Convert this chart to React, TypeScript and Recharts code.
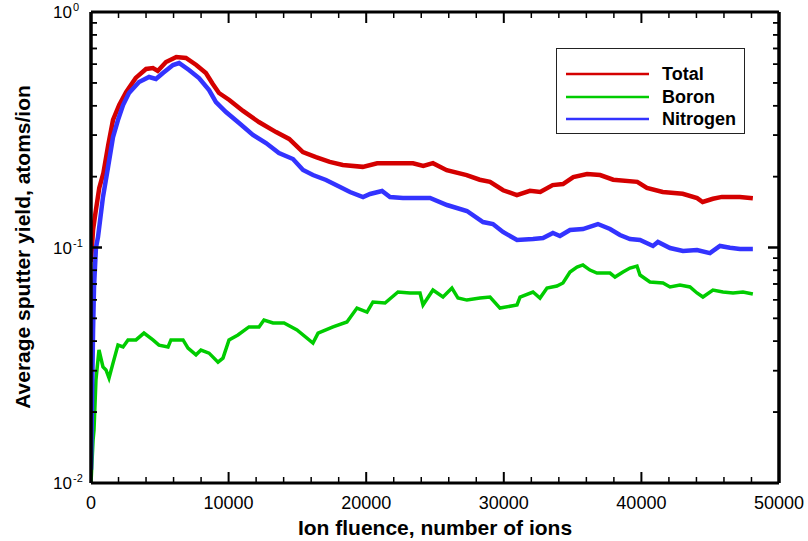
import React from 'react';
import { LineChart, Line, XAxis, YAxis, Label } from 'recharts';

// ---- Data ----
const totalFluence = [0, 150, 300, 600, 900, 1250, 1600, 2050, 2550, 3250, 4000, 4500, 4850, 5450, 6200, 6900, 7650, 8350, 8850, 9300, 10050, 11050, 12200, 13450, 14400, 15400, 16350, 17350, 18300, 19750, 20800, 21500, 22450, 23400, 24150, 24850, 25850, 27300, 28250, 29000, 29950, 30950, 31900, 32650, 33550, 34300, 35050, 36050, 37000, 37950, 39700, 40400, 41550, 43000, 44050, 44450, 45200, 45850, 47150, 48100];
const totalYield = [0.087, 0.119, 0.137, 0.179, 0.207, 0.272, 0.348, 0.403, 0.457, 0.525, 0.573, 0.578, 0.562, 0.613, 0.644, 0.638, 0.596, 0.551, 0.495, 0.453, 0.423, 0.380, 0.341, 0.309, 0.289, 0.254, 0.242, 0.231, 0.224, 0.220, 0.228, 0.228, 0.228, 0.228, 0.222, 0.228, 0.213, 0.203, 0.194, 0.190, 0.175, 0.167, 0.174, 0.172, 0.184, 0.186, 0.199, 0.205, 0.203, 0.194, 0.190, 0.179, 0.172, 0.169, 0.162, 0.156, 0.161, 0.164, 0.164, 0.162];

const boronFluence = [0, 150, 220, 360, 580, 870, 1090, 1310, 1600, 1960, 2330, 2690, 3270, 3850, 4500, 4940, 5600, 5810, 6690, 7050, 7630, 7990, 8580, 9230, 9590, 10030, 10680, 11480, 12210, 12570, 13230, 14030, 14970, 16130, 16500, 17590, 18600, 19330, 20060, 20490, 21370, 22310, 23180, 23910, 24130, 24850, 25580, 26230, 26670, 27320, 28270, 29000, 29720, 30960, 31180, 32120, 32630, 33140, 33860, 34300, 34810, 35320, 35750, 36260, 36770, 37720, 38080, 38660, 39170, 39680, 39900, 40620, 41570, 42080, 42800, 43530, 44040, 44470, 45200, 45930, 46660, 47380, 48100];
const boronYield = [0.0100, 0.0152, 0.0168, 0.0274, 0.0367, 0.0311, 0.0302, 0.0279, 0.0323, 0.0385, 0.0378, 0.0405, 0.0405, 0.0433, 0.0405, 0.0385, 0.0378, 0.0405, 0.0405, 0.0374, 0.0350, 0.0367, 0.0356, 0.0326, 0.0339, 0.0405, 0.0425, 0.0460, 0.0460, 0.0492, 0.0478, 0.0478, 0.0447, 0.0393, 0.0433, 0.0460, 0.0483, 0.0553, 0.0532, 0.0587, 0.0581, 0.0647, 0.0641, 0.0641, 0.0570, 0.0660, 0.0616, 0.0673, 0.0610, 0.0598, 0.0610, 0.0616, 0.0553, 0.0570, 0.0616, 0.0647, 0.0610, 0.0673, 0.0686, 0.0707, 0.0787, 0.0826, 0.0843, 0.0802, 0.0779, 0.0779, 0.0749, 0.0787, 0.0818, 0.0834, 0.0764, 0.0714, 0.0707, 0.0680, 0.0693, 0.0680, 0.0641, 0.0616, 0.0660, 0.0647, 0.0641, 0.0647, 0.0635];

const nitrogenFluence = [0, 150, 220, 360, 510, 870, 1240, 1600, 1960, 2330, 2760, 3490, 4220, 4720, 5230, 5960, 6400, 7120, 7850, 8580, 9080, 9810, 10760, 11770, 12720, 13660, 14680, 15410, 16130, 17080, 18100, 18820, 19770, 20280, 21150, 21730, 22670, 24640, 25870, 27320, 28490, 29210, 29940, 30960, 32120, 32850, 33570, 34080, 34810, 35750, 36840, 37720, 38440, 39170, 39900, 40840, 41200, 42080, 43020, 44040, 44980, 45710, 46440, 47160, 48100];
const nitrogenYield = [0.0114, 0.0447, 0.0680, 0.0998, 0.1108, 0.1638, 0.2197, 0.2945, 0.3478, 0.4027, 0.4529, 0.5045, 0.5296, 0.5193, 0.5508, 0.5955, 0.6074, 0.5673, 0.5245, 0.4664, 0.4148, 0.3761, 0.3378, 0.3004, 0.2778, 0.2519, 0.2375, 0.2133, 0.2032, 0.1935, 0.1806, 0.1720, 0.1638, 0.1687, 0.1737, 0.1638, 0.1622, 0.1622, 0.1515, 0.1429, 0.1283, 0.1258, 0.1164, 0.1076, 0.1087, 0.1097, 0.1152, 0.1119, 0.1187, 0.1198, 0.1258, 0.1198, 0.1130, 0.1087, 0.1076, 0.1015, 0.1055, 0.0995, 0.0966, 0.0976, 0.0947, 0.1015, 0.0998, 0.0985, 0.0985];

const fluenceTicks = [0, 2000, 4000, 6000, 8000, 10000, 12000, 14000, 16000, 18000, 20000, 22000, 24000, 26000, 28000, 30000, 32000, 34000, 36000, 38000, 40000, 42000, 44000, 46000, 48000, 50000];
const fluenceMajor = [0, 10000, 20000, 30000, 40000, 50000];
const yieldTicks = [0.01, 0.02, 0.03, 0.04, 0.05, 0.06, 0.07, 0.08, 0.09, 0.1, 0.2, 0.3, 0.4, 0.5, 0.6, 0.7, 0.8, 0.9, 1];
const yieldDecades = [0.01, 0.1, 1];
const decadeExponents = ['-2', '-1', '0'];

const seriesNames = ['Total', 'Boron', 'Nitrogen'];
const seriesColors = ['#d40000', '#00cc00', '#3333ff'];

const toPoints = (xs: number[], ys: number[]) => xs.map((x, i) => ({ x, y: ys[i] }));
const totalData = toPoints(totalFluence, totalYield);
const boronData = toPoints(boronFluence, boronYield);
const nitrogenData = toPoints(nitrogenFluence, nitrogenYield);

const FONT = '"Liberation Sans", Arial, Helvetica, sans-serif';
const W = 808;
const H = 541;

const isMajorX = (v: number) => fluenceMajor.includes(v);
const decadeIndex = (v: number) => yieldDecades.findIndex((d) => Math.abs(d - v) < 1e-9);

const BottomTick = (props: any) => {
  const x = Number(props.x);
  const y = Number(props.y);
  const major = isMajorX(props.payload.value);
  return (
    <g>
      <path d={`M${x},${y}V${y - (major ? 11 : 6)}`} stroke="#000" strokeWidth={major ? 2 : 1.5} fill="none" />
      {major && (
        <text x={x} y={y + 26} textAnchor="middle" fontSize={18} fontFamily={FONT} fill="#000">
          {props.payload.value}
        </text>
      )}
    </g>
  );
};

const TopMark = (props: any) => {
  const x = Number(props.x);
  const y = Number(props.y);
  const major = isMajorX(props.payload.value);
  return <path d={`M${x},${y}V${y + (major ? 11 : 6)}`} stroke="#000" strokeWidth={major ? 2 : 1.5} fill="none" />;
};

const LeftMark = (props: any) => {
  const x = Number(props.x);
  const y = Number(props.y);
  const major = decadeIndex(props.payload.value) >= 0;
  return <path d={`M${x},${y}H${x + (major ? 11 : 6)}`} stroke="#000" strokeWidth={major ? 2 : 1.5} fill="none" />;
};

const LeftTick = (props: any) => {
  const x = Number(props.x);
  const y = Number(props.y);
  const di = decadeIndex(props.payload.value);
  const major = di >= 0;
  return (
    <g>
      <path d={`M${x},${y}H${x + (major ? 11 : 6)}`} stroke="#000" strokeWidth={major ? 2 : 1.5} fill="none" />
      {major && (
        <g>
          <text x={x - 19} y={y + 6} textAnchor="end" fontSize={17} fontFamily={FONT} fill="#000">10</text>
          <text x={x - 18} y={y - 1} textAnchor="start" fontSize={11} fontFamily={FONT} fill="#000">{decadeExponents[di]}</text>
        </g>
      )}
    </g>
  );
};

const RightMark = (props: any) => {
  const x = Number(props.x);
  const y = Number(props.y);
  const major = decadeIndex(props.payload.value) >= 0;
  return <path d={`M${x},${y}H${x - (major ? 11 : 6)}`} stroke="#000" strokeWidth={major ? 2 : 1.5} fill="none" />;
};

const axisLineStyle = { stroke: '#000', strokeWidth: 3 };

const XTitle = () => (
  <text x={435} y={535} textAnchor="middle" fontSize={21} fontWeight="bold" fontFamily={FONT} fill="#000">
    Ion fluence, number of ions
  </text>
);

const YTitle = () => (
  <text x={30} y={247} transform="rotate(-90, 30, 247)" textAnchor="middle" fontSize={21} fontWeight="bold" fontFamily={FONT} fill="#000">
    Average sputter yield, atoms/ion
  </text>
);

const xCommon = {
  type: 'number' as const,
  domain: [0, 50000],
  allowDataOverflow: true,
  ticks: fluenceTicks,
  interval: 0 as const,
  tickSize: 0,
  tickMargin: 0,
  tickLine: false,
};
const yCommon = {
  type: 'number' as const,
  scale: 'log' as const,
  domain: [0.01, 1],
  allowDataOverflow: true,
  ticks: yieldTicks,
  interval: 0 as const,
  tickSize: 0,
  tickMargin: 0,
  tickLine: false,
};

const LegendBox = () => (
  <div
    style={{
      position: 'absolute',
      left: 556,
      top: 48,
      width: 187,
      height: 84,
      border: '1.5px solid #222',
      background: '#fff',
      fontFamily: FONT,
    }}
  >
    {seriesNames.map((name, i) => (
      <div key={name} style={{ position: 'absolute', left: 0, top: 13 + i * 22.5, height: 24, width: 187 }}>
        <svg width={95} height={24} style={{ position: 'absolute', left: 0, top: 0 }}>
          <line x1={9} x2={92} y1={12} y2={12} stroke={seriesColors[i]} strokeWidth={2.5} />
        </svg>
        <span style={{ position: 'absolute', left: 105, top: 2, fontSize: 18, fontWeight: 'bold', lineHeight: '20px', color: '#000' }}>
          {name}
        </span>
      </div>
    ))}
  </div>
);

export default function App() {
  return (
    <div style={{ position: 'absolute', left: 0, top: 0, width: W, height: H, background: '#fff' }}>
      {/* Series chart with the full frame, ticks and labels */}
      <div style={{ position: 'absolute', left: 0, top: 0 }}>
        <LineChart width={W} height={H} margin={{ top: 1, right: 28, bottom: 0, left: 0 }}>
          <XAxis xAxisId={0} dataKey="x" {...xCommon} height={58} axisLine={axisLineStyle} tick={<BottomTick />}>
            <Label content={<XTitle />} />
          </XAxis>
          <XAxis xAxisId="top" orientation="top" dataKey="x" {...xCommon} height={11} axisLine={axisLineStyle} tick={<TopMark />} />
          <YAxis yAxisId={0} {...yCommon} width={91} axisLine={axisLineStyle} tick={<LeftTick />}>
            <Label content={<YTitle />} />
          </YAxis>
          <YAxis yAxisId="right" orientation="right" {...yCommon} width={1} axisLine={axisLineStyle} tick={<RightMark />} />
          <Line data={totalData} dataKey="y" name="Total" stroke={seriesColors[0]} strokeWidth={4.5} dot={false} activeDot={false} isAnimationActive={false} type="linear" />
          <Line data={boronData} dataKey="y" name="Boron" stroke={seriesColors[1]} strokeWidth={3.5} dot={false} activeDot={false} isAnimationActive={false} type="linear" />
          <Line data={nitrogenData} dataKey="y" name="Nitrogen" stroke={seriesColors[2]} strokeWidth={4.5} dot={false} activeDot={false} isAnimationActive={false} type="linear" />
          {/* unstroked copy that binds the mirrored top/right frame axes */}
          <Line xAxisId="top" yAxisId="right" data={totalData} dataKey="y" stroke="none" strokeWidth={0} legendType="none" dot={false} activeDot={false} isAnimationActive={false} type="linear" />
        </LineChart>
      </div>
      {/* Left/right inward ticks repeated above the curves */}
      <div style={{ position: 'absolute', left: 0, top: 0, pointerEvents: 'none' }}>
        <LineChart width={W} height={H} margin={{ top: 12, right: 28, bottom: 58, left: 90 }}>
          <YAxis yAxisId="fl" orientation="left" {...yCommon} width={1} axisLine={axisLineStyle} tick={<LeftMark />} />
          <YAxis yAxisId="fr" orientation="right" {...yCommon} width={1} axisLine={axisLineStyle} tick={<RightMark />} />
        </LineChart>
      </div>
      <LegendBox />
    </div>
  );
}
